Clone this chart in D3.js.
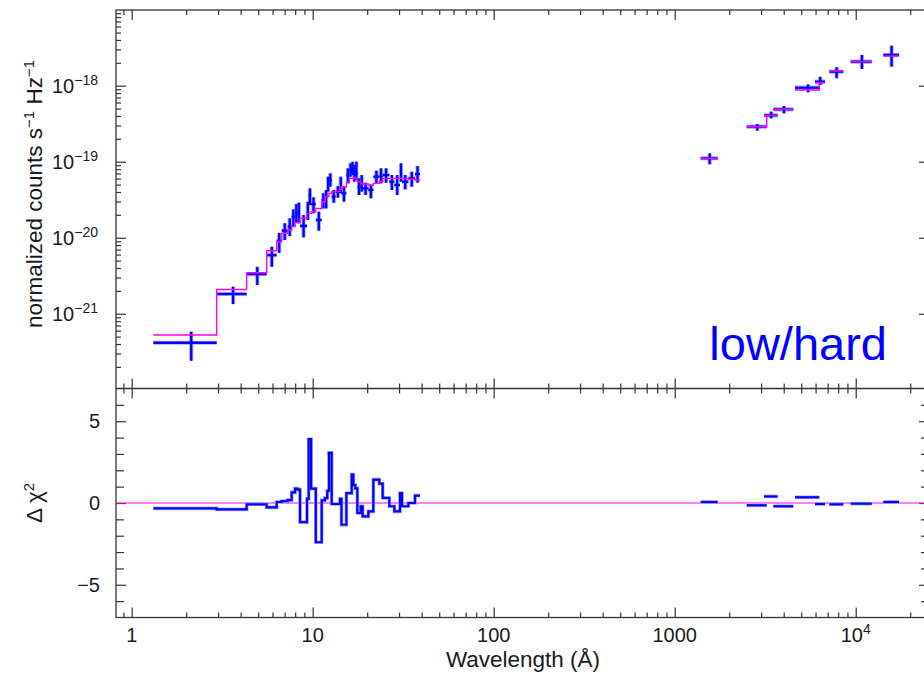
<!DOCTYPE html>
<html>
<head>
<meta charset="utf-8">
<script src="https://cdn.jsdelivr.net/npm/d3@7"></script>
<style>
  body { margin: 0; background: #fff; }
  text { font-family: "Liberation Sans", Arial, Helvetica, sans-serif; fill: #1a1a1a; }
</style>
</head>
<body>
<svg id="chart" width="924" height="676"></svg>
<script>
// X-ray bins (Angstrom edges), folded data with error range, model and residuals
const xrayEdges = [1.317, 2.947, 4.317, 5.567, 6.323, 6.738, 7.273, 7.653, 7.985, 8.25, 8.51,
  9.30, 9.50, 9.80, 10.40, 11.21, 11.69, 12.04, 12.30, 12.73, 13.40, 14.15, 14.42, 15.35,
  15.94, 16.42, 16.77, 17.20, 17.65, 18.41, 18.88, 20.30, 21.63, 23.34, 24.36, 26.51, 28.25,
  30.36, 31.14, 33.77, 36.75, 39.15];
const xrayFlux = [4.16e-22, 1.82e-21, 3.33e-21, 5.91e-21, 9.13e-21, 1.24e-20, 1.40e-20, 1.89e-20,
  2.09e-20, 2.14e-20, 1.43e-20, 2.36e-20, 3.65e-20, 2.77e-20, 1.71e-20, 3.13e-20, 3.47e-20,
  5.09e-20, 5.74e-20, 3.47e-20, 4.04e-20, 4.93e-20, 3.84e-20, 6.68e-20, 7.78e-20, 8.18e-20,
  7.03e-20, 7.03e-20, 4.69e-20, 5.30e-20, 4.46e-20, 4.25e-20, 6.35e-20, 6.48e-20, 6.68e-20,
  5.46e-20, 4.93e-20, 7.39e-20, 5.46e-20, 6.04e-20, 6.89e-20];
const xrayFluxHi = [5.81e-22, 2.27e-21, 4.15e-21, 7.62e-21, 1.16e-20, 1.55e-20, 1.80e-20, 2.36e-20,
  2.77e-20, 2.89e-20, 1.99e-20, 2.98e-20, 4.46e-20, 3.40e-20, 2.20e-20, 3.84e-20, 4.25e-20,
  6.35e-20, 7.03e-20, 4.25e-20, 4.78e-20, 6.35e-20, 4.78e-20, 8.18e-20, 9.52e-20, 1.00e-19,
  9.05e-20, 1.00e-19, 6.04e-20, 6.68e-20, 5.30e-20, 4.93e-20, 7.62e-20, 8.18e-20, 8.18e-20,
  6.68e-20, 6.68e-20, 9.52e-20, 6.68e-20, 7.39e-20, 8.78e-20];
const xrayFluxLo = [2.41e-22, 1.34e-21, 2.38e-21, 4.15e-21, 6.35e-21, 9.31e-21, 1.05e-20, 1.40e-20,
  1.58e-20, 1.55e-20, 1.01e-20, 1.71e-20, 2.69e-20, 2.09e-20, 1.24e-20, 2.43e-20, 2.43e-20,
  4.04e-20, 4.69e-20, 2.89e-20, 3.36e-20, 3.84e-20, 2.98e-20, 5.30e-20, 6.35e-20, 6.68e-20,
  5.46e-20, 5.74e-20, 3.65e-20, 4.04e-20, 3.65e-20, 3.30e-20, 5.19e-20, 5.19e-20, 5.30e-20,
  4.25e-20, 3.65e-20, 5.46e-20, 4.33e-20, 4.69e-20, 5.30e-20];
const xrayModel = [5.25e-22, 2.09e-21, 3.46e-21, 6.75e-21, 8.86e-21, 1.14e-20, 1.26e-20, 1.40e-20,
  1.58e-20, 1.58e-20, 1.80e-20, 2.09e-20, 2.09e-20, 2.20e-20, 2.43e-20, 2.98e-20, 3.47e-20,
  3.47e-20, 3.84e-20, 4.04e-20, 4.04e-20, 4.33e-20, 4.69e-20, 5.30e-20, 6.04e-20, 6.04e-20,
  6.22e-20, 6.04e-20, 5.46e-20, 5.19e-20, 5.09e-20, 4.93e-20, 5.19e-20, 5.46e-20, 6.04e-20,
  6.04e-20, 6.04e-20, 6.04e-20, 6.04e-20, 5.90e-20, 5.74e-20];
const xrayDchi = [-0.33, -0.39, -0.08, -0.27, 0.06, 0.12, 0.18, 0.65, 0.88, 0.82, -1.17, 0.25,
  3.9, 0.88, -2.4, 0.16, 0.3, 0.75, 3.07, -0.06, -0.06, 0.25, -1.33, 0.6, 0.6, 1.74, 1.1, 0.9,
  -0.61, -0.2, -0.82, -0.51, 1.43, 1.18, 0.31, -0.2, -0.51, 0.61, -0.2, 0, 0.45];

// optical / UV photometry bins
const optLo = [1392, 2500, 3115, 3506, 4620, 5957, 7145, 9385, 14210];
const optHi = [1728, 3224, 3707, 4521, 6295, 6768, 8543, 12260, 17350];
const optFlux = [1.11e-19, 2.89e-19, 4.08e-19, 4.89e-19, 9.41e-19, 1.13e-18, 1.53e-18, 2.07e-18, 2.54e-18];
const optFluxHi = [1.29e-19, 3.13e-19, 4.55e-19, 5.41e-19, 1.04e-18, 1.31e-18, 1.75e-18, 2.54e-18, 3.36e-18];
const optFluxLo = [9.24e-20, 2.56e-19, 3.72e-19, 4.33e-19, 8.19e-19, 1.02e-18, 1.25e-18, 1.66e-18, 1.78e-18];
const optModel = [1.11e-19, 2.89e-19, 4.08e-19, 4.89e-19, 8.78e-19, 1.09e-18, 1.56e-18, 2.07e-18, 2.46e-18];
const optDchi = [0.06, -0.14, 0.4, -0.2, 0.35, -0.06, -0.08, -0.04, 0.06];

// tick values
const xMajor = [1, 10, 100, 1000, 10000];
const xLabels = ["1", "10", "100", "1000", "10^4"];
const yTopMajor = [1e-18, 1e-19, 1e-20, 1e-21];
const yTopExp = ["−18", "−19", "−20", "−21"];
const yResMajor = [5, 0, -5];
const yResLabels = ["5", "0", "−5"];

const blue = "#0000ff", magenta = "#ff00ff", axisColor = "#333";
const plotL = 116, plotR = 929, plotT = 10, plotMid = 388.5, plotB = 617.5;

const svg = d3.select("#chart");

const x = d3.scaleLog().domain([0.819, 25400]).range([plotL, plotR]);
const yTop = d3.scaleLog().domain([1.04e-22, 9.9e-18]).range([plotMid, plotT]);
const yRes = d3.scaleLinear().domain([-7, 7]).range([plotB, plotMid]);

// minor ticks
const xMinor = [];
[0.1, 1, 10, 100, 1000, 10000].forEach(d => {
  for (let k = 2; k <= 9; k++) {
    const v = k * d;
    if (v > 0.819 && v < 25400) xMinor.push(v);
  }
});
const yTopMinor = [];
[-22, -21, -20, -19, -18].forEach(e => {
  for (let k = 2; k <= 9; k++) {
    const v = k * Math.pow(10, e);
    if (v > 1.04e-22 && v < 9.9e-18) yTopMinor.push(v);
  }
});
const yResMinor = d3.range(-6, 7).filter(v => v % 5 !== 0);

function ticks(axisFn, scale, vals, len, tx, ty) {
  svg.append("g")
    .attr("transform", `translate(${tx},${ty})`)
    .call(axisFn(scale).tickValues(vals).tickSize(len).tickSizeOuter(0).tickFormat(""))
    .call(g => g.select(".domain").remove())
    .selectAll("line").attr("stroke", axisColor).attr("stroke-width", 1.2);
}

// x ticks on all panel edges
[[d3.axisBottom, plotT], [d3.axisTop, plotMid], [d3.axisBottom, plotMid], [d3.axisTop, plotB]].forEach(([fn, yy]) => {
  ticks(fn, x, xMajor, 10, 0, yy);
  ticks(fn, x, xMinor, 5, 0, yy);
});
// y ticks
ticks(d3.axisRight, yTop, yTopMajor, 10, plotL, 0);
ticks(d3.axisRight, yTop, yTopMinor, 5, plotL, 0);
ticks(d3.axisLeft, yTop, yTopMajor, 10, plotR, 0);
ticks(d3.axisLeft, yTop, yTopMinor, 5, plotR, 0);
ticks(d3.axisRight, yRes, yResMajor, 10, plotL, 0);
ticks(d3.axisRight, yRes, yResMinor, 8, plotL, 0);
ticks(d3.axisLeft, yRes, yResMajor, 10, plotR, 0);
ticks(d3.axisLeft, yRes, yResMinor, 8, plotR, 0);

// frame
svg.append("rect")
  .attr("x", plotL).attr("y", plotT)
  .attr("width", plotR - plotL).attr("height", plotB - plotT)
  .attr("fill", "none").attr("stroke", axisColor).attr("stroke-width", 1.3);
svg.append("line")
  .attr("x1", plotL).attr("x2", plotR).attr("y1", plotMid).attr("y2", plotMid)
  .attr("stroke", axisColor).attr("stroke-width", 1.3);

// collect bins
const xrayBins = xrayFlux.map((f, i) => ({
  lo: xrayEdges[i], hi: xrayEdges[i + 1], f: f,
  fLo: xrayFluxLo[i], fHi: xrayFluxHi[i], m: xrayModel[i], r: xrayDchi[i]
}));
const optBins = optFlux.map((f, i) => ({
  lo: optLo[i], hi: optHi[i], f: f,
  fLo: optFluxLo[i], fHi: optFluxHi[i], m: optModel[i], r: optDchi[i]
}));
const allBins = xrayBins.concat(optBins);

// data crosses
const dataG = svg.append("g");
[["#a8a8ff", 4.2], [blue, 2.3]].forEach(([col, w]) => {
  const g = dataG.append("g").attr("stroke", col).attr("stroke-width", w);
  g.selectAll(".h").data(allBins).join("line").attr("class", "h")
    .attr("x1", d => x(d.lo)).attr("x2", d => x(d.hi))
    .attr("y1", d => yTop(d.f)).attr("y2", d => yTop(d.f));
  g.selectAll(".v").data(allBins).join("line").attr("class", "v")
    .attr("x1", d => x((d.lo + d.hi) / 2)).attr("x2", d => x((d.lo + d.hi) / 2))
    .attr("y1", d => yTop(d.fLo)).attr("y2", d => yTop(d.fHi));
});

// model: X-ray step line
const stepPts = [];
xrayBins.forEach(d => { stepPts.push([d.lo, d.m]); stepPts.push([d.hi, d.m]); });
svg.append("path")
  .attr("d", d3.line().x(p => x(p[0])).y(p => yTop(p[1]))(stepPts))
  .attr("fill", "none").attr("stroke", magenta).attr("stroke-width", 1.4);

// model: optical segments, joined only where one bin runs into the next
optBins.forEach((d, i) => {
  const pts = [[d.lo, d.m], [d.hi, d.m]];
  const n = optBins[i + 1];
  if (n && n.lo <= d.hi && n.hi - d.hi < 600) pts.push([d.hi, n.m]);
  svg.append("path")
    .attr("d", d3.line().x(p => x(p[0])).y(p => yTop(p[1]))(pts))
    .attr("fill", "none").attr("stroke", magenta).attr("stroke-width", 1.4);
});

// residual panel
svg.append("line")
  .attr("x1", plotL).attr("x2", plotR)
  .attr("y1", yRes(0)).attr("y2", yRes(0))
  .attr("stroke", magenta).attr("stroke-width", 1.2);

const resPts = [];
xrayBins.forEach(d => { resPts.push([d.lo, d.r]); resPts.push([d.hi, d.r]); });
[["#a8a8ff", 3.6], [blue, 2.2]].forEach(([col, w]) => {
  svg.append("path")
    .attr("d", d3.line().x(p => x(p[0])).y(p => yRes(p[1]))(resPts))
    .attr("fill", "none").attr("stroke", col).attr("stroke-width", w);
  svg.append("g").selectAll("line").data(optBins).join("line")
    .attr("x1", d => x(d.lo)).attr("x2", d => x(d.hi))
    .attr("y1", d => yRes(d.r)).attr("y2", d => yRes(d.r))
    .attr("stroke", col).attr("stroke-width", w);
});

// x tick labels
xMajor.forEach((v, i) => {
  const t = svg.append("text")
    .attr("x", x(v)).attr("y", 642)
    .attr("text-anchor", "middle").attr("font-size", 20);
  const parts = xLabels[i].split("^");
  t.append("tspan").text(parts[0]);
  if (parts[1]) t.append("tspan").attr("dy", -8).attr("font-size", 14).text(parts[1]);
});
svg.append("text")
  .attr("x", 523).attr("y", 667)
  .attr("text-anchor", "middle").attr("font-size", 22.5)
  .text("Wavelength (Å)");

// y tick labels
yTopMajor.forEach((v, i) => {
  const t = svg.append("text")
    .attr("x", 98).attr("y", yTop(v) + 7)
    .attr("text-anchor", "end").attr("font-size", 20);
  t.append("tspan").text("10");
  t.append("tspan").attr("dy", -8).attr("font-size", 14).text(yTopExp[i]);
});
yResMajor.forEach((v, i) => {
  svg.append("text")
    .attr("x", 100).attr("y", yRes(v) + 7)
    .attr("text-anchor", "end").attr("font-size", 20)
    .text(yResLabels[i]);
});

// axis titles
const yt = svg.append("text")
  .attr("transform", "translate(42,194) rotate(-90)")
  .attr("text-anchor", "middle").attr("font-size", 22.5);
yt.append("tspan").text("normalized counts s");
yt.append("tspan").attr("dy", -8).attr("font-size", 15).text("−1");
yt.append("tspan").attr("dy", 8).text(" Hz");
yt.append("tspan").attr("dy", -8).attr("font-size", 15).text("−1");

const rt = svg.append("text")
  .attr("transform", "translate(42,503) rotate(-90)")
  .attr("text-anchor", "middle").attr("font-size", 22.5);
rt.append("tspan").text("Δ χ");
rt.append("tspan").attr("dy", -8).attr("font-size", 15).text("2");

// state label
svg.append("text")
  .attr("x", 887).attr("y", 360)
  .attr("text-anchor", "end").attr("font-size", 47)
  .style("fill", blue)
  .text("low/hard");
</script>
</body>
</html>
